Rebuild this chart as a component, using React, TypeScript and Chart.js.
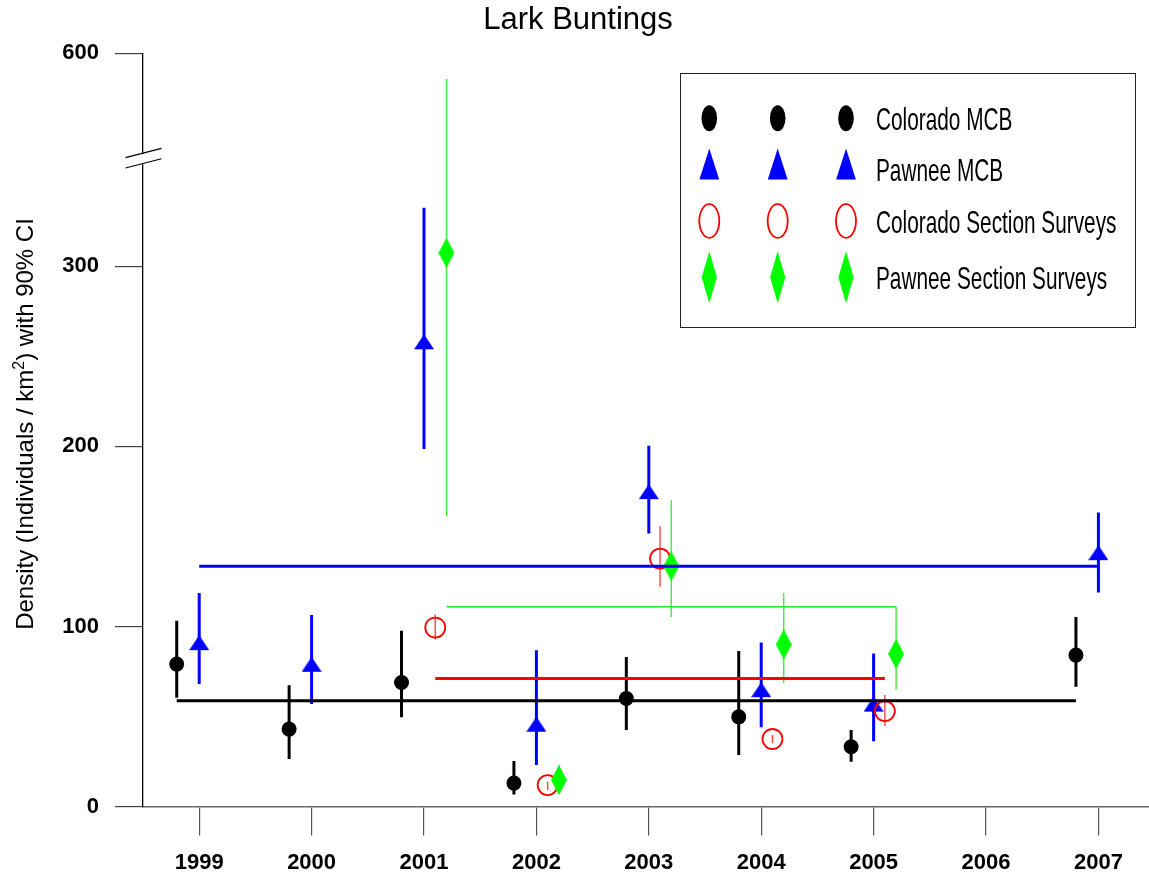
import React, { useEffect, useRef } from 'react';
import { Chart, registerables } from 'chart.js';

Chart.register(...registerables);

// ---------- text ----------
const chartTitle = 'Lark Buntings';
const yTitleMain = 'Density (Individuals / km';
const yTitleSup = '2';
const yTitleEnd = ') with 90% CI';
const seriesLabels = ['Colorado MCB', 'Pawnee MCB', 'Colorado Section Surveys', 'Pawnee Section Surveys'];

// ---------- axes ----------
const xTickYears = [1999, 2000, 2001, 2002, 2003, 2004, 2005, 2006, 2007];
const yTickValues = [0, 100, 200, 300, 600];

// ---------- data ----------
const coloradoMcbYears = [1999, 2000, 2001, 2002, 2003, 2004, 2005, 2007];
const coloradoMcbEstimate = [79.1, 43.0, 68.9, 13.0, 60.0, 49.8, 33.2, 84.1];
const coloradoMcbLower = [60.4, 26.4, 49.5, 6.6, 42.5, 28.6, 24.9, 66.5];
const coloradoMcbUpper = [103.1, 67.4, 97.6, 25.3, 83.1, 86.3, 42.5, 105.3];
const coloradoMcbMean = 58.8;

const pawneeMcbYears = [1999, 2000, 2001, 2002, 2003, 2004, 2005, 2007];
const pawneeMcbEstimate = [89.6, 77.6, 256.7, 44.3, 173.5, 63.5, 55.5, 139.6];
const pawneeMcbLower = [68.0, 56.9, 198.6, 23.0, 151.6, 44.0, 36.3, 118.9];
const pawneeMcbUpper = [118.6, 106.3, 332.5, 86.8, 200.3, 91.1, 85.0, 163.3];
const pawneeMcbMean = 133.5;

const coloradoSectionYears = [2001, 2002, 2003, 2004, 2005];
const coloradoSectionEstimate = [99.4, 11.9, 137.7, 37.5, 53.0];
const coloradoSectionLower = [92.8, 9.2, 122.0, 35.1, 44.7];
const coloradoSectionUpper = [106.7, 13.8, 155.7, 39.7, 61.9];
const coloradoSectionMean = 71.1;

const pawneeSectionYears = [2001, 2002, 2003, 2004, 2005];
const pawneeSectionEstimate = [307.5, 14.7, 133.5, 90.0, 84.8];
const pawneeSectionLower = [161.2, 7.3, 105.3, 68.4, 65.0];
const pawneeSectionUpper = [541.5, 23.0, 170.1, 118.6, 110.9];
const pawneeSectionMean = 110.9;

// ---------- broken axis ----------
const AXIS_BREAK = 360;
const ABOVE_BREAK_SCALE = 0.243;
const toAxis = (v: number) => (v <= AXIS_BREAK ? v : AXIS_BREAK + (v - AXIS_BREAK) * ABOVE_BREAK_SCALE);

const FONT = "'Liberation Sans', Arial, Helvetica, sans-serif";

function makeTriangle(w: number, h: number, color: string) {
  const c = document.createElement('canvas');
  const H = Math.ceil((h * 2) / 3) * 2;
  c.width = Math.ceil(w);
  c.height = H;
  const ctx = c.getContext('2d')!;
  const cy = H / 2;
  ctx.fillStyle = color;
  ctx.beginPath();
  ctx.moveTo(w / 2, cy - (2 * h) / 3);
  ctx.lineTo(w, cy + h / 3);
  ctx.lineTo(0, cy + h / 3);
  ctx.closePath();
  ctx.fill();
  return c;
}

function makeDiamond(w: number, h: number, color: string) {
  const c = document.createElement('canvas');
  c.width = w;
  c.height = h;
  const ctx = c.getContext('2d')!;
  ctx.fillStyle = color;
  ctx.beginPath();
  ctx.moveTo(w / 2, 0);
  ctx.lineTo(w, h / 2);
  ctx.lineTo(w / 2, h);
  ctx.lineTo(0, h / 2);
  ctx.closePath();
  ctx.fill();
  return c;
}

function ciData(years: number[], lo: number[], hi: number[], dodge: number) {
  const pts: any[] = [];
  years.forEach((yr, i) => {
    pts.push({ x: yr + dodge, y: toAxis(lo[i]) });
    pts.push({ x: yr + dodge, y: toAxis(hi[i]) });
    pts.push({ x: yr + dodge, y: null });
  });
  return pts;
}

function pointData(years: number[], est: number[], dodge: number) {
  return years.map((yr, i) => ({ x: yr + dodge, y: toAxis(est[i]) }));
}

function meanData(years: number[], mean: number, dodge: number) {
  return [
    { x: years[0] + dodge, y: toAxis(mean) },
    { x: years[years.length - 1] + dodge, y: toAxis(mean) },
  ];
}

export default function App() {
  const ref = useRef<HTMLCanvasElement | null>(null);

  useEffect(() => {
    document.body.style.margin = '0';
    const canvas = ref.current!;
    const triangle = makeTriangle(20, 15, '#0000ff');
    const diamond = makeDiamond(16, 30, '#00ff00');

    const series = [
      { years: coloradoMcbYears, est: coloradoMcbEstimate, lo: coloradoMcbLower, hi: coloradoMcbUpper, mean: coloradoMcbMean,
        dodge: -0.2, color: '#000000', ciColor: '#000000', ciWidth: 3, meanWidth: 3,
        point: { pointStyle: 'circle', pointRadius: 7.5, pointBackgroundColor: '#000', pointBorderColor: '#000', pointBorderWidth: 0 } },
      { years: pawneeMcbYears, est: pawneeMcbEstimate, lo: pawneeMcbLower, hi: pawneeMcbUpper, mean: pawneeMcbMean,
        dodge: 0, color: '#0000ff', ciColor: '#0000ff', ciWidth: 3, meanWidth: 3,
        point: { pointStyle: triangle, pointRadius: 10 } },
      { years: coloradoSectionYears, est: coloradoSectionEstimate, lo: coloradoSectionLower, hi: coloradoSectionUpper, mean: coloradoSectionMean,
        dodge: 0.1, color: '#ff0000', ciColor: '#ff4444', ciWidth: 1.4, meanWidth: 3,
        point: { pointStyle: 'circle', pointRadius: 10, pointBackgroundColor: 'rgba(0,0,0,0)', pointBorderColor: '#ff0000', pointBorderWidth: 1.8 } },
      { years: pawneeSectionYears, est: pawneeSectionEstimate, lo: pawneeSectionLower, hi: pawneeSectionUpper, mean: pawneeSectionMean,
        dodge: 0.2, color: '#22ee22', ciColor: '#44ee44', ciWidth: 1.5, meanWidth: 1.5,
        point: { pointStyle: diamond, pointRadius: 15 } },
    ];

    const datasets: any[] = [];
    series.forEach((s, k) => {
      datasets.push({
        label: seriesLabels[k] + ' CI',
        data: ciData(s.years, s.lo, s.hi, s.dodge),
        showLine: true, spanGaps: false, pointRadius: 0,
        borderColor: s.ciColor, borderWidth: s.ciWidth, borderCapStyle: 'butt',
        order: 80 - k * 10,
      });
      datasets.push({
        label: seriesLabels[k],
        data: pointData(s.years, s.est, s.dodge),
        showLine: false,
        ...s.point,
        order: 75 - k * 10,
      });
      datasets.push({
        label: seriesLabels[k] + ' mean',
        data: meanData(s.years, s.mean, s.dodge),
        showLine: true, pointRadius: 0,
        borderColor: s.color, borderWidth: s.meanWidth,
        order: 10 - k,
      });
    });

    const decorations = {
      id: 'decorations',
      afterDraw(chart: any) {
        const ctx = chart.ctx as CanvasRenderingContext2D;
        const ys = chart.scales.y;
        const area = chart.chartArea;

        // axis break marks
        const by = ys.getPixelForValue(AXIS_BREAK);
        const ax = area.left;
        ctx.save();
        ctx.fillStyle = '#fff';
        ctx.beginPath();
        ctx.moveTo(ax - 18, by + 0.4);
        ctx.lineTo(ax + 18, by - 9.0);
        ctx.lineTo(ax + 18, by + 1.2);
        ctx.lineTo(ax - 18, by + 10.6);
        ctx.closePath();
        ctx.fill();
        ctx.strokeStyle = '#000';
        ctx.lineWidth = 1.2;
        ctx.beginPath();
        ctx.moveTo(ax - 17.5, by - 0.7);
        ctx.lineTo(ax + 18.5, by - 10);
        ctx.moveTo(ax - 17.5, by + 9.7);
        ctx.lineTo(ax + 18.5, by + 0.4);
        ctx.stroke();
        ctx.restore();

        // y axis title
        ctx.save();
        ctx.translate(33, 424);
        ctx.rotate(-Math.PI / 2);
        ctx.fillStyle = '#000';
        ctx.textBaseline = 'alphabetic';
        ctx.textAlign = 'left';
        const mainFont = `24px ${FONT}`;
        const supFont = `16px ${FONT}`;
        ctx.font = mainFont;
        const w1 = ctx.measureText(yTitleMain).width;
        const w3 = ctx.measureText(yTitleEnd).width;
        ctx.font = supFont;
        const w2 = ctx.measureText(yTitleSup).width;
        let x = -(w1 + w2 + w3) / 2;
        ctx.font = mainFont;
        ctx.fillText(yTitleMain, x, 0);
        x += w1;
        ctx.font = supFont;
        ctx.fillText(yTitleSup, x, -9);
        x += w2;
        ctx.font = mainFont;
        ctx.fillText(yTitleEnd, x, 0);
        ctx.restore();

        // legend
        ctx.save();
        ctx.strokeStyle = '#222';
        ctx.lineWidth = 1;
        ctx.strokeRect(680.5, 73.5, 455, 254);
        const cols = [709.3, 777.7, 846];
        const rows = [118.3, 169.5, 221, 277.3];
        cols.forEach((cx) => {
          ctx.fillStyle = '#000';
          ctx.beginPath();
          ctx.ellipse(cx, rows[0], 7.8, 13, 0, 0, Math.PI * 2);
          ctx.fill();
          ctx.fillStyle = '#0000ff';
          ctx.beginPath();
          ctx.moveTo(cx, rows[1] - 21);
          ctx.lineTo(cx + 9.9, rows[1] + 10);
          ctx.lineTo(cx - 9.9, rows[1] + 10);
          ctx.closePath();
          ctx.fill();
          ctx.strokeStyle = '#ff0000';
          ctx.lineWidth = 1.8;
          ctx.beginPath();
          ctx.ellipse(cx, rows[2], 10, 16.8, 0, 0, Math.PI * 2);
          ctx.stroke();
          ctx.fillStyle = '#00ff00';
          ctx.beginPath();
          ctx.moveTo(cx, rows[3] - 26);
          ctx.lineTo(cx + 7.6, rows[3]);
          ctx.lineTo(cx, rows[3] + 26);
          ctx.lineTo(cx - 7.6, rows[3]);
          ctx.closePath();
          ctx.fill();
        });
        ctx.fillStyle = '#000';
        ctx.font = `32px ${FONT}`;
        ctx.textBaseline = 'alphabetic';
        ctx.textAlign = 'left';
        rows.forEach((ry, i) => {
          ctx.save();
          ctx.translate(876, ry + 11.6);
          ctx.scale(0.65, 1);
          ctx.fillText(seriesLabels[i], 0, 0);
          ctx.restore();
        });
        ctx.restore();
      },
    };

    const chart = new Chart(canvas, {
      type: 'scatter',
      data: { datasets },
      options: {
        responsive: false,
        animation: false,
        events: [],
        layout: { autoPadding: false, padding: { left: 7, right: 0, top: 0, bottom: 0 } },
        plugins: {
          legend: { display: false },
          tooltip: { enabled: false },
          title: {
            display: true,
            text: chartTitle,
            color: '#000',
            font: { family: FONT, size: 31, weight: 'normal' },
            padding: { top: 1.4, bottom: 14.7 },
          },
        },
        scales: {
          x: {
            type: 'linear',
            position: 'bottom',
            min: 1998.5,
            max: 2007.45,
            afterFit: (s: any) => { s.height = 70.5; s.paddingLeft = 0; s.paddingRight = 0; },
            afterBuildTicks: (s: any) => { s.ticks = xTickYears.map((v) => ({ value: v })); },
            grid: { drawOnChartArea: false, drawTicks: true, tickLength: 29, color: '#555', lineWidth: 1.2 },
            border: { display: true, color: '#666', width: 1.5 },
            ticks: {
              color: '#000',
              font: { family: FONT, size: 22, weight: 'bold' },
              padding: 14,
              autoSkip: false,
              maxRotation: 0,
              callback: (v: any) => String(v),
            },
          },
          y: {
            type: 'linear',
            position: 'left',
            min: 0,
            max: toAxis(600),
            afterFit: (s: any) => { s.width = 136; },
            afterBuildTicks: (s: any) => { s.ticks = yTickValues.map((v) => ({ value: toAxis(v) })); },
            grid: { drawOnChartArea: false, drawTicks: true, tickLength: 28, color: '#444', lineWidth: 1.2 },
            border: { display: true, color: '#000', width: 1.3 },
            ticks: {
              color: '#000',
              font: { family: FONT, size: 22, weight: 'bold' },
              padding: 16,
              autoSkip: false,
              callback: (_v: any, i: number) => String(yTickValues[i]),
            },
          },
        },
      },
      plugins: [decorations],
    } as any);

    return () => chart.destroy();
  }, []);

  return (
    <div style={{ width: 1149, height: 877 }}>
      <canvas ref={ref} width={1149} height={877} style={{ display: 'block', width: 1149, height: 877 }} />
    </div>
  );
}
